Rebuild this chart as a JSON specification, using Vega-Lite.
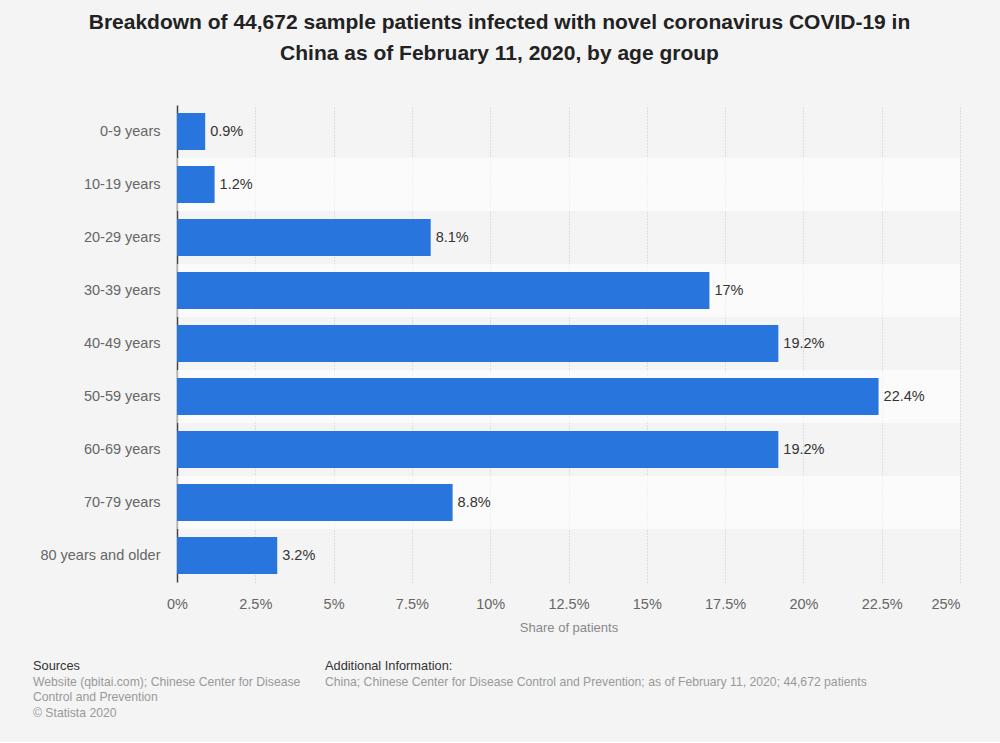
{
  "$schema": "https://vega.github.io/schema/vega-lite/v6.json",
  "background": "#f4f4f4",
  "padding": {"left": 33, "top": 12, "right": 40, "bottom": 17},
  "config": {"view": {"stroke": null}, "font": "Liberation Sans"},
  "title": {
    "text": ["Breakdown of 44,672 sample patients infected with novel coronavirus COVID-19 in", "China as of February 11, 2020, by age group"],
    "fontSize": 21, "fontWeight": "bold", "color": "#222222", "font": "Liberation Sans",
    "lineHeight": 31, "anchor": "middle", "offset": 41, "dx": 3
  },
  "spacing": 24,
  "vconcat": [
    {
      "width": 783,
      "height": 477,
      "data": {"values": [
        {"age": "0-9 years", "share": 0.9},
        {"age": "10-19 years", "share": 1.2},
        {"age": "20-29 years", "share": 8.1},
        {"age": "30-39 years", "share": 17},
        {"age": "40-49 years", "share": 19.2},
        {"age": "50-59 years", "share": 22.4},
        {"age": "60-69 years", "share": 19.2},
        {"age": "70-79 years", "share": 8.8},
        {"age": "80 years and older", "share": 3.2}
      ]},
      "transform": [{"calculate": "datum.share + '%'", "as": "label"}],
      "encoding": {
        "y": {
          "field": "age", "type": "nominal", "sort": null,
          "scale": {"domain": ["0-9 years", "10-19 years", "20-29 years", "30-39 years", "40-49 years", "50-59 years", "60-69 years", "70-79 years", "80 years and older"], "paddingInner": 0, "paddingOuter": 0},
          "axis": {"title": null, "ticks": false, "domainColor": "#444444", "domainWidth": 1.5, "labelFontSize": 14.5, "labelColor": "#666666", "labelPadding": 17, "labelLimit": 300}
        }
      },
      "layer": [
        {
          "transform": [{"filter": {"field": "age", "oneOf": ["10-19 years", "30-39 years", "50-59 years", "70-79 years"]}}],
          "mark": {"type": "bar", "height": {"band": 1}, "color": "#ffffff", "opacity": 0.6},
          "encoding": {
            "x": {
              "datum": 0, "type": "quantitative", "title": "Share of patients",
              "scale": {"domain": [0, 25], "nice": false},
              "axis": {
                "grid": true,
                "values": [0, 2.5, 5, 7.5, 10, 12.5, 15, 17.5, 20, 22.5, 25],
                "labelExpr": "datum.value + '%'",
                "labelAlign": {"condition": {"test": "datum.value == 25", "value": "right"}, "value": "center"},
                "domain": false, "ticks": false,
                "gridColor": "#c8c8c8", "gridDash": [1, 2],
                "labelFontSize": 14.5, "labelColor": "#666666", "labelPadding": 15,
                "titleFontSize": 13, "titleColor": "#888888", "titleFontWeight": "normal", "titlePadding": 11
              }
            },
            "x2": {"datum": 25}
          }
        },
        {
          "mark": {"type": "bar", "height": {"band": 0.7}, "color": "#2876dd"},
          "encoding": {"x": {"field": "share", "type": "quantitative", "title": "Share of patients"}}
        },
        {
          "mark": {"type": "text", "align": "left", "dx": 5, "fontSize": 14.5, "color": "#333333"},
          "encoding": {
            "x": {"field": "share", "type": "quantitative", "title": "Share of patients"},
            "text": {"field": "label"}
          }
        }
      ]
    },
    {
      "spacing": 0,
      "hconcat": [
        {
          "width": 148, "height": 1,
          "data": {"values": [{}]},
          "mark": {"type": "point", "opacity": 0},
          "encoding": {},
          "title": {
            "text": "Sources",
            "subtitle": ["Website (qbitai.com); Chinese Center for Disease", "Control and Prevention", "© Statista 2020"],
            "anchor": "start", "dx": -144, "fontSize": 12.8, "fontWeight": "normal", "color": "#333333",
            "subtitleFontSize": 12.2, "subtitleColor": "#999999", "subtitleLineHeight": 15.5, "subtitlePadding": 3, "offset": 0
          }
        },
        {
          "width": 560, "height": 1,
          "data": {"values": [{}]},
          "mark": {"type": "point", "opacity": 0},
          "encoding": {},
          "title": {
            "text": "Additional Information:",
            "subtitle": ["China; Chinese Center for Disease Control and Prevention; as of February 11, 2020; 44,672 patients", " ", " "],
            "anchor": "start", "fontSize": 12.8, "fontWeight": "normal", "color": "#333333",
            "subtitleFontSize": 12.2, "subtitleColor": "#999999", "subtitleLineHeight": 15.5, "subtitlePadding": 3, "offset": 0
          }
        }
      ]
    }
  ]
}
